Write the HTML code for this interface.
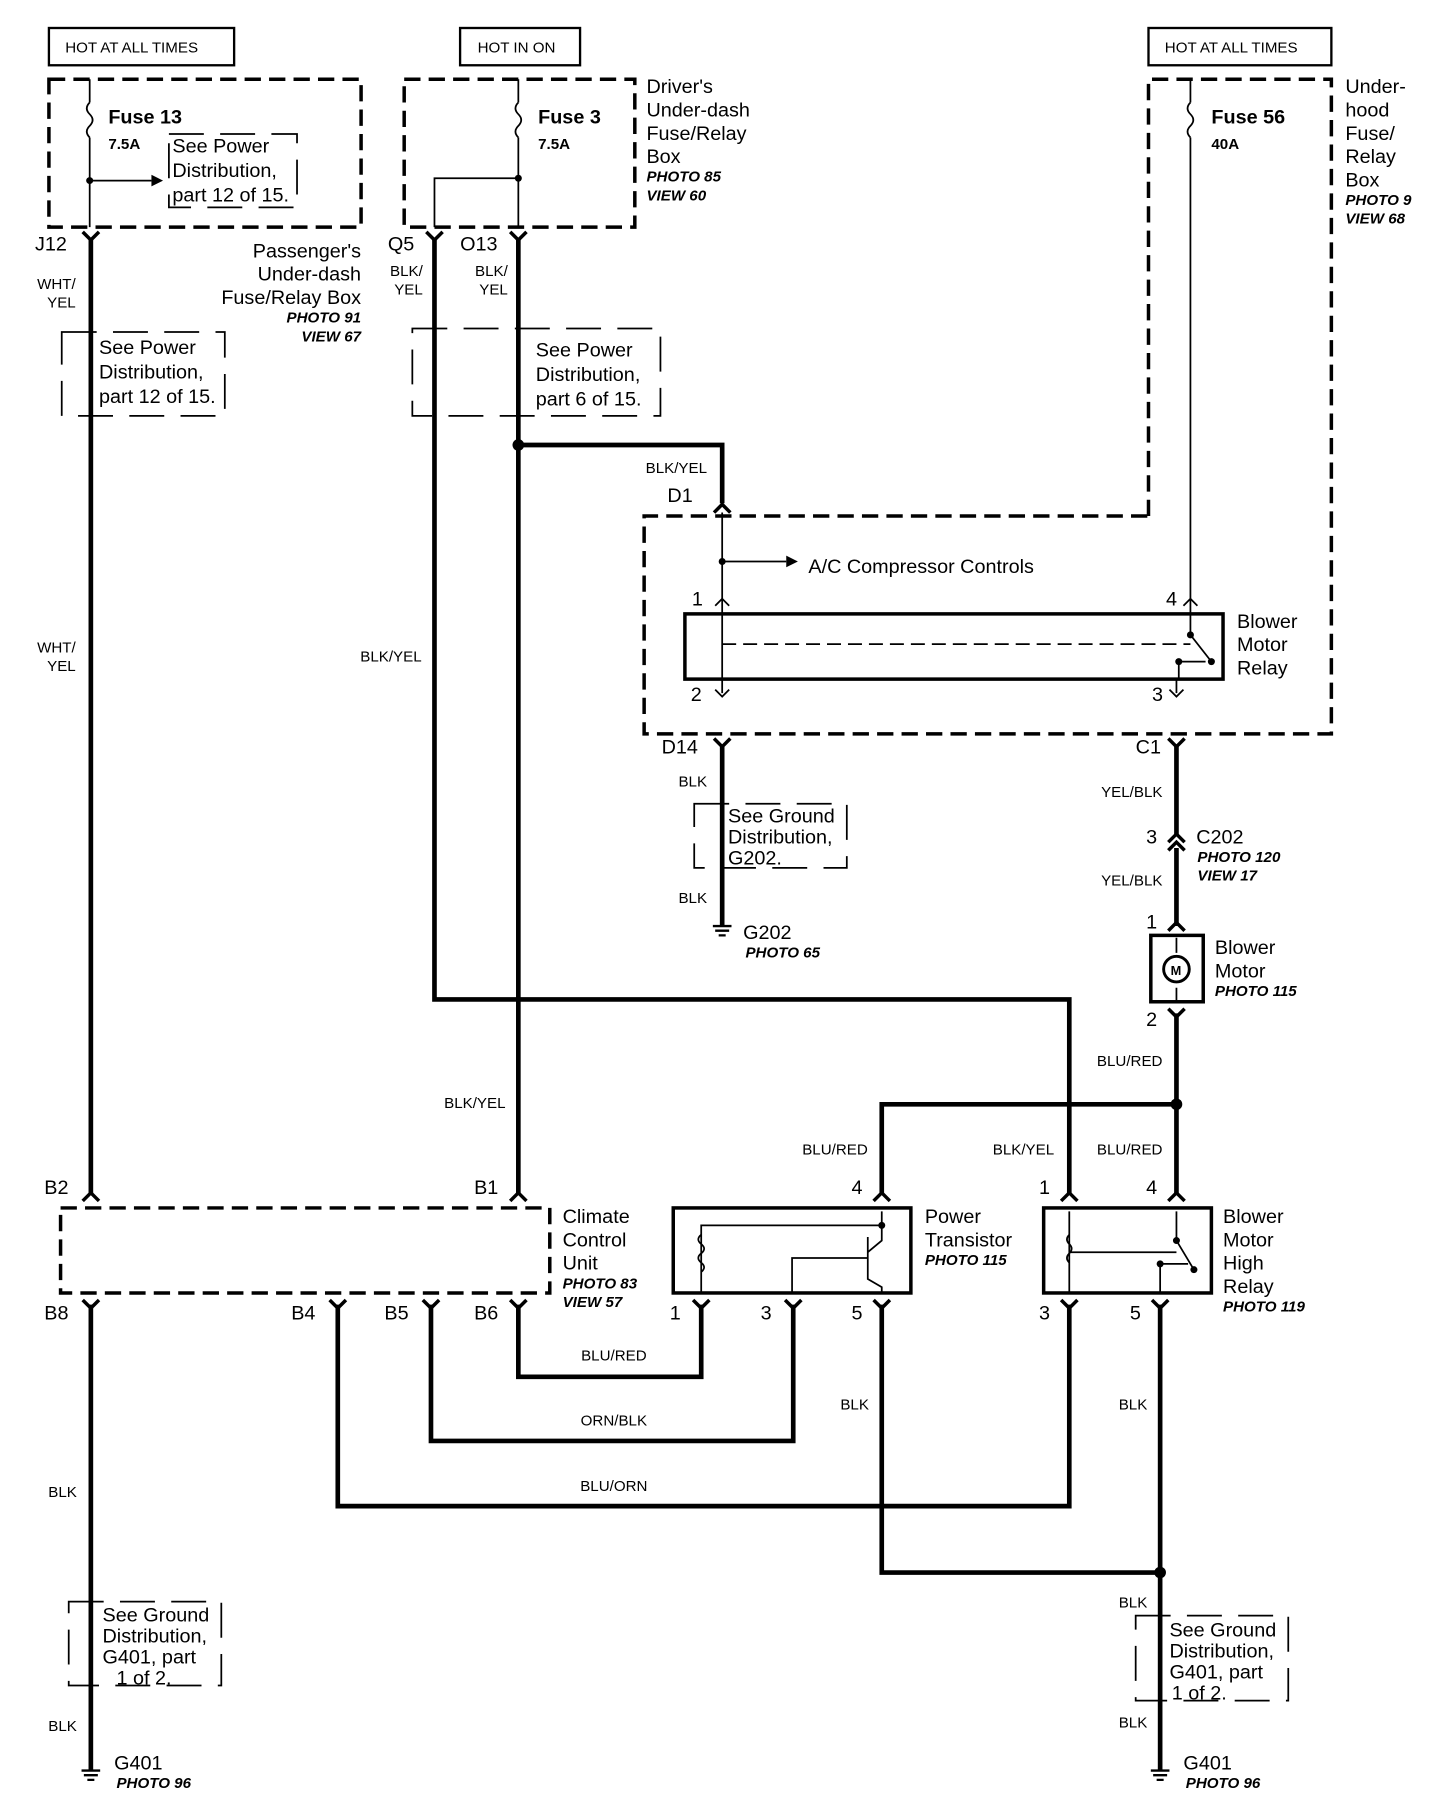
<!DOCTYPE html>
<html><head><meta charset="utf-8"><style>
html,body{margin:0;padding:0;background:#fff;}
svg{display:block;}
text{font-family:"Liberation Sans",Arial,sans-serif;fill:#000;}
.b{font-size:17px;}
.s{font-size:13px;}
.i{font-size:13px;font-style:italic;font-weight:bold;}
.w{font-size:13px;}
</style></head><body>
<svg width="1456" height="1816" viewBox="0 0 1250 1559" xmlns="http://www.w3.org/2000/svg">
<g fill="none" stroke="#000">
<rect x="42" y="24" width="159" height="32" stroke-width="2"/>
<rect x="395" y="24" width="103" height="32" stroke-width="2"/>
<rect x="986" y="24" width="157" height="32" stroke-width="2"/>
<g stroke-width="3" stroke-dasharray="14,7">
<rect x="42" y="68" width="268" height="127"/>
<rect x="347" y="68" width="198" height="127"/>
<path d="M986 443 L986 68 L1143 68 L1143 630 L553 630 L553 443 Z"/>
<rect x="52" y="1037" width="420" height="73"/>
</g>
<g stroke-width="1.5" stroke-dasharray="30,14">
<rect x="145" y="115" width="110" height="63"/>
<rect x="53" y="285" width="140" height="72"/>
<rect x="354" y="282" width="213" height="75"/>
<rect x="596" y="690" width="131" height="55"/>
<rect x="59" y="1375" width="131" height="72"/>
<rect x="975" y="1387" width="131" height="73"/>
</g>
<g stroke-width="1.5">
<path d="M77 68 V88 M77 118 V195"/>
<path d="M77 88 q-5 5 0 10 q5 5 0 10 q-5 5 0 10"/>
<path d="M77 155 H130"/>
<path d="M445 68 V88 M445 118 V195"/>
<path d="M445 88 q-5 5 0 10 q5 5 0 10 q-5 5 0 10"/>
<path d="M445 153 H373 V195"/>
<path d="M1022 68 V88 M1022 118 V527"/>
<path d="M1022 88 q-5 5 0 10 q5 5 0 10 q-5 5 0 10"/>
<path d="M620 440 V595"/>
<path d="M620 482 H675"/>
<path d="M620 553 H1022" stroke-dasharray="12,6"/>
<path d="M1022 527 V545 L1040 568 M1012 568 V583 M1012 568 H1035" />
<path d="M1010 583 V595"/>
<path d="M602 1110 V1052 H757 V1040 M757 1052 V1065 L745 1075 M745 1062 V1098 L757 1105 V1110 M745 1080 H680 V1110"/>
<path d="M602 1060 q-5 4 0 8 q5 4 0 8 q-5 4 0 8 q5 4 0 8"/>
<path d="M918 1040 V1110 M1010 1040 V1065 L1025 1090 M996 1085 V1110 M996 1085 H1020 M918 1075 H1010" />
<path d="M918 1060 q-4 4 0 8 q4 4 0 8 q-4 4 0 8"/>
<path d="M1010 805 V818 M1010 848 V860"/>
</g>
<g fill="#000" stroke="none">
<circle cx="77" cy="155" r="3"/><circle cx="445" cy="153" r="3"/>
<circle cx="620" cy="482" r="3"/><circle cx="757" cy="1052" r="3"/>
<circle cx="1022" cy="545" r="3"/><circle cx="1040" cy="568" r="3"/><circle cx="1012" cy="568" r="3"/>
<circle cx="1010" cy="1065" r="3"/><circle cx="1025" cy="1090" r="3"/><circle cx="996" cy="1085" r="3"/>
<path d="M130 150 L140 155 L130 160 Z"/><path d="M675 477 L685 482 L675 487 Z"/>
<circle cx="445" cy="382" r="5"/><circle cx="1010" cy="948" r="5"/><circle cx="996" cy="1350" r="5"/>
</g>
<rect x="588" y="527" width="462" height="56" stroke-width="3"/>
<rect x="578" y="1037" width="204" height="73" stroke-width="3"/>
<rect x="896" y="1037" width="144" height="73" stroke-width="3"/>
<rect x="988" y="803" width="45" height="57" stroke-width="3"/>
<circle cx="1010" cy="832" r="11" stroke-width="2.5"/>
<g stroke-width="4">
<path d="M78 205 V1025"/>
<path d="M78 1120 V1520"/>
<path d="M373 205 V858 H918 V1025"/>
<path d="M445 205 V1025"/>
<path d="M445 382 H620 V432"/>
<path d="M620 640 V795"/>
<path d="M1010 640 V718 M1010 728 V795 M1010 870 V1025"/>
<path d="M1010 948 H757 V1025"/>
<path d="M290 1120 V1293 H918 V1120"/>
<path d="M370 1120 V1237 H681 V1120"/>
<path d="M445 1120 V1182 H602 V1120"/>
<path d="M757 1120 V1350 H996"/>
<path d="M996 1120 V1520"/>
</g>
<g stroke-width="3">
<path d="M71 199 L78 206 L85 199"/><path d="M366 199 L373 206 L380 199"/><path d="M438 199 L445 206 L452 199"/>
<path d="M613 440 L620 433 L627 440"/><path d="M613 634 L620 641 L627 634"/><path d="M1003 634 L1010 641 L1017 634"/>
<path d="M1003 723 L1010 716 L1017 723"/><path d="M1003 730 L1010 723 L1017 730"/>
<path d="M1003 799 L1010 792 L1017 799"/><path d="M1003 866 L1010 873 L1017 866"/>
<path d="M71 1031 L78 1024 L85 1031"/><path d="M438 1031 L445 1024 L452 1031"/>
<path d="M750 1031 L757 1024 L764 1031"/><path d="M911 1031 L918 1024 L925 1031"/><path d="M1003 1031 L1010 1024 L1017 1031"/>
<path d="M71 1116 L78 1123 L85 1116"/><path d="M283 1116 L290 1123 L297 1116"/><path d="M363 1116 L370 1123 L377 1116"/><path d="M438 1116 L445 1123 L452 1116"/>
<path d="M595 1116 L602 1123 L609 1116"/><path d="M674 1116 L681 1123 L688 1116"/><path d="M750 1116 L757 1123 L764 1116"/>
<path d="M911 1116 L918 1123 L925 1116"/><path d="M989 1116 L996 1123 L1003 1116"/>
</g>
<g stroke-width="1.5">
<path d="M614 520 L620 514 L626 520"/><path d="M1016 520 L1022 514 L1028 520"/>
<path d="M614 592 L620 598 L626 592"/><path d="M1004 592 L1010 598 L1016 592"/>
</g>
<g stroke-width="2">
<path d="M70 1520 H86 M72 1524 H84 M75 1528 H81"/>
<path d="M612 795 H628 M614 799 H626 M617 803 H623"/>
<path d="M988 1520 H1004 M990 1524 H1002 M993 1528 H999"/>
</g>
</g>
<text x="56" y="45" class="w">HOT AT ALL TIMES</text>
<text x="410" y="45" class="w">HOT IN ON</text>
<text x="1000" y="45" class="w">HOT AT ALL TIMES</text>
<text x="93" y="106" class="b" font-weight="bold">Fuse 13</text>
<text x="93" y="128" class="s" font-weight="bold">7.5A</text>
<text x="148" y="131" class="b">See Power</text><text x="148" y="152" class="b">Distribution,</text><text x="148" y="173" class="b">part 12 of 15.</text>
<text x="462" y="106" class="b" font-weight="bold">Fuse 3</text>
<text x="462" y="128" class="s" font-weight="bold">7.5A</text>
<text x="555" y="80" class="b">Driver's</text><text x="555" y="100" class="b">Under-dash</text><text x="555" y="120" class="b">Fuse/Relay</text><text x="555" y="140" class="b">Box</text>
<text x="555" y="156" class="i">PHOTO 85</text><text x="555" y="172" class="i">VIEW 60</text>
<text x="1040" y="106" class="b" font-weight="bold">Fuse 56</text>
<text x="1040" y="128" class="s" font-weight="bold">40A</text>
<text x="1155" y="80" class="b">Under-</text><text x="1155" y="100" class="b">hood</text><text x="1155" y="120" class="b">Fuse/</text><text x="1155" y="140" class="b">Relay</text><text x="1155" y="160" class="b">Box</text>
<text x="1155" y="176" class="i">PHOTO 9</text><text x="1155" y="192" class="i">VIEW 68</text>
<text x="30" y="215" class="b">J12</text>
<text x="333" y="215" class="b">Q5</text><text x="395" y="215" class="b">O13</text>
<text x="310" y="221" class="b" text-anchor="end">Passenger's</text><text x="310" y="241" class="b" text-anchor="end">Under-dash</text><text x="310" y="261" class="b" text-anchor="end">Fuse/Relay Box</text>
<text x="310" y="277" class="i" text-anchor="end">PHOTO 91</text><text x="310" y="293" class="i" text-anchor="end">VIEW 67</text>
<text x="65" y="248" class="w" text-anchor="end">WHT/</text><text x="65" y="264" class="w" text-anchor="end">YEL</text>
<text x="363" y="237" class="w" text-anchor="end">BLK/</text><text x="363" y="253" class="w" text-anchor="end">YEL</text>
<text x="436" y="237" class="w" text-anchor="end">BLK/</text><text x="436" y="253" class="w" text-anchor="end">YEL</text>
<text x="85" y="304" class="b">See Power</text><text x="85" y="325" class="b">Distribution,</text><text x="85" y="346" class="b">part 12 of 15.</text>
<text x="460" y="306" class="b">See Power</text><text x="460" y="327" class="b">Distribution,</text><text x="460" y="348" class="b">part 6 of 15.</text>
<text x="607" y="406" class="w" text-anchor="end">BLK/YEL</text>
<text x="573" y="431" class="b">D1</text>
<text x="694" y="492" class="b">A/C Compressor Controls</text>
<text x="594" y="520" class="b">1</text><text x="1001" y="520" class="b">4</text>
<text x="1062" y="539" class="b">Blower</text><text x="1062" y="559" class="b">Motor</text><text x="1062" y="579" class="b">Relay</text>
<text x="593" y="602" class="b">2</text><text x="989" y="602" class="b">3</text>
<text x="568" y="647" class="b">D14</text><text x="975" y="647" class="b">C1</text>
<text x="65" y="560" class="w" text-anchor="end">WHT/</text><text x="65" y="576" class="w" text-anchor="end">YEL</text>
<text x="362" y="568" class="w" text-anchor="end">BLK/YEL</text>
<text x="607" y="675" class="w" text-anchor="end">BLK</text>
<text x="625" y="706" class="b">See Ground</text><text x="625" y="724" class="b">Distribution,</text><text x="625" y="742" class="b">G202.</text>
<text x="607" y="775" class="w" text-anchor="end">BLK</text>
<text x="638" y="806" class="b">G202</text><text x="640" y="822" class="i">PHOTO 65</text>
<text x="998" y="684" class="w" text-anchor="end">YEL/BLK</text>
<text x="984" y="724" class="b">3</text><text x="1027" y="724" class="b">C202</text>
<text x="1028" y="740" class="i">PHOTO 120</text><text x="1028" y="756" class="i">VIEW 17</text>
<text x="998" y="760" class="w" text-anchor="end">YEL/BLK</text>
<text x="984" y="797" class="b">1</text>
<text x="1043" y="819" class="b">Blower</text><text x="1043" y="839" class="b">Motor</text><text x="1043" y="855" class="i">PHOTO 115</text>
<text x="1005" y="837" font-size="11" font-weight="bold" >M</text>
<text x="984" y="881" class="b">2</text>
<text x="998" y="915" class="w" text-anchor="end">BLU/RED</text>
<text x="434" y="951" class="w" text-anchor="end">BLK/YEL</text>
<text x="745" y="991" class="w" text-anchor="end">BLU/RED</text>
<text x="905" y="991" class="w" text-anchor="end">BLK/YEL</text>
<text x="998" y="991" class="w" text-anchor="end">BLU/RED</text>
<text x="38" y="1025" class="b">B2</text><text x="407" y="1025" class="b">B1</text>
<text x="731" y="1025" class="b">4</text><text x="892" y="1025" class="b">1</text><text x="984" y="1025" class="b">4</text>
<text x="483" y="1050" class="b">Climate</text><text x="483" y="1070" class="b">Control</text><text x="483" y="1090" class="b">Unit</text>
<text x="483" y="1106" class="i">PHOTO 83</text><text x="483" y="1122" class="i">VIEW 57</text>
<text x="794" y="1050" class="b">Power</text><text x="794" y="1070" class="b">Transistor</text><text x="794" y="1086" class="i">PHOTO 115</text>
<text x="1050" y="1050" class="b">Blower</text><text x="1050" y="1070" class="b">Motor</text><text x="1050" y="1090" class="b">High</text><text x="1050" y="1110" class="b">Relay</text><text x="1050" y="1126" class="i">PHOTO 119</text>
<text x="38" y="1133" class="b">B8</text><text x="250" y="1133" class="b">B4</text><text x="330" y="1133" class="b">B5</text><text x="407" y="1133" class="b">B6</text>
<text x="575" y="1133" class="b">1</text><text x="653" y="1133" class="b">3</text><text x="731" y="1133" class="b">5</text>
<text x="892" y="1133" class="b">3</text><text x="970" y="1133" class="b">5</text>
<text x="527" y="1168" class="w" text-anchor="middle">BLU/RED</text>
<text x="527" y="1224" class="w" text-anchor="middle">ORN/BLK</text>
<text x="527" y="1280" class="w" text-anchor="middle">BLU/ORN</text>
<text x="746" y="1210" class="w" text-anchor="end">BLK</text>
<text x="985" y="1210" class="w" text-anchor="end">BLK</text>
<text x="66" y="1285" class="w" text-anchor="end">BLK</text>
<text x="88" y="1392" class="b">See Ground</text><text x="88" y="1410" class="b">Distribution,</text><text x="88" y="1428" class="b">G401, part</text><text x="100" y="1446" class="b">1 of 2.</text>
<text x="1004" y="1405" class="b">See Ground</text><text x="1004" y="1423" class="b">Distribution,</text><text x="1004" y="1441" class="b">G401, part</text><text x="1006" y="1459" class="b">1 of 2.</text>
<text x="985" y="1380" class="w" text-anchor="end">BLK</text>
<text x="66" y="1486" class="w" text-anchor="end">BLK</text>
<text x="985" y="1483" class="w" text-anchor="end">BLK</text>
<text x="98" y="1519" class="b">G401</text><text x="100" y="1535" class="i">PHOTO 96</text>
<text x="1016" y="1519" class="b">G401</text><text x="1018" y="1535" class="i">PHOTO 96</text>
</svg>
</body></html>
